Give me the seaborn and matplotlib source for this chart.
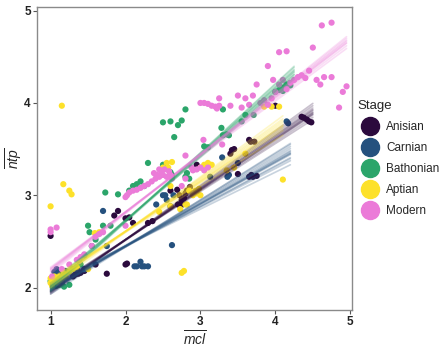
import numpy as np
import pandas as pd
import matplotlib
matplotlib.use("Agg")
import matplotlib.pyplot as plt
import seaborn as sns
from matplotlib.lines import Line2D

stages = ["Anisian", "Carnian", "Bathonian", "Aptian", "Modern"]
colors = ["#2B0A3D", "#25517E", "#2BA56A", "#FDE12A", "#EB7BD8"]

anisian_x = [1.0, 1.3, 1.33, 1.37, 1.4, 1.45, 1.6, 1.75, 1.85, 1.9, 2.0, 2.02, 2.0, 2.05, 2.1, 2.3,
             2.36, 2.6, 2.69, 2.7, 2.72, 2.75, 2.76, 2.8, 2.82, 2.78, 2.86, 2.95, 3.4, 3.42, 3.45, 3.5,
             3.65, 3.67, 3.72, 3.65, 3.68, 3.7, 3.75, 4.0, 4.35, 4.38, 4.42, 4.45, 4.48]
anisian_y = [2.56, 2.12, 2.14, 2.15, 2.16, 2.18, 2.25, 2.15, 2.78, 2.83, 2.25, 2.26, 2.75, 2.76, 2.7, 2.7,
             2.72, 3.05, 3.06, 2.9, 3.0, 2.95, 2.9, 3.02, 3.05, 2.97, 3.09, 3.33, 3.45, 3.49, 3.5, 3.23,
             3.6, 3.58, 3.58, 3.2, 3.22, 3.2, 3.21, 3.97, 3.85, 3.84, 3.82, 3.8, 3.79]

carnian_x = [1.05, 1.08, 1.1, 1.12, 1.15, 1.2, 1.1, 1.35, 1.45, 1.7, 1.75, 2.12, 2.15, 2.2, 2.22,
             2.25, 2.3, 2.41, 2.5, 2.53, 2.55, 2.62, 2.64, 2.6, 3.13, 3.29, 3.36, 3.38, 3.5, 4.15, 4.17]
carnian_y = [2.17, 2.2, 2.15, 2.18, 2.16, 2.18, 2.1, 2.2, 2.2, 2.83, 2.45, 2.23, 2.23, 2.28, 2.23,
             2.23, 2.23, 2.9, 3.0, 3.0, 2.95, 2.46, 3.0, 2.88, 3.2, 3.41, 3.2, 3.22, 3.35, 3.8, 3.78]

bathonian_x = [1.0, 1.03, 1.08, 1.12, 1.18, 1.25, 1.15, 1.4, 1.45, 1.5, 1.52, 1.55, 1.6, 1.73, 1.7,
               1.8, 1.9, 2.05, 2.1, 2.15, 2.2, 2.25, 2.3, 2.5, 2.6, 2.65, 2.7, 2.75, 2.8, 2.5, 2.6,
               2.62, 2.8, 2.85, 2.82, 3.05, 3.1, 3.3, 3.28, 3.3, 3.35, 3.38, 3.55, 3.6, 3.71,
               4.0, 4.05, 4.08, 4.1, 4.12, 4.15, 4.2]
bathonian_y = [2.07, 2.04, 2.02, 2.03, 2.01, 2.03, 2.05, 2.25, 2.35, 2.67, 2.6, 2.45, 2.52, 3.03, 2.67,
               2.67, 3.01, 3.05, 3.1, 3.12, 3.15, 3.1, 3.35, 3.79, 3.8, 3.63, 3.76, 3.81, 3.93, 3.33, 3.25,
               3.22, 3.2, 3.18, 3.24, 3.53, 3.52, 3.65, 3.73, 3.93, 3.66, 3.65, 3.8, 3.87, 3.87,
               4.12, 4.14, 4.16, 4.13, 4.17, 4.2, 4.19]

aptian_x = [1.0, 1.0, 1.0, 1.02, 1.05, 1.08, 1.1, 1.12, 1.15, 1.18, 1.2, 1.25, 1.3, 1.35, 1.05,
            1.15, 1.17, 1.25, 1.28, 1.5, 1.59, 1.65, 2.45, 2.5, 2.55, 2.57, 2.6, 2.62, 2.6, 2.73,
            2.75, 2.78, 2.8, 2.82, 2.85, 2.9, 2.93, 2.95, 2.98, 3.0, 3.0, 3.05, 3.1, 3.15, 3.35,
            3.45, 3.6, 3.85, 3.95, 4.05, 4.1]
aptian_y = [2.88, 2.1, 2.05, 2.02, 2.07, 2.1, 2.05, 2.12, 2.08, 2.15, 2.12, 2.17, 2.2, 2.22, 2.12,
            3.97, 3.12, 3.05, 3.01, 2.2, 2.59, 2.6, 2.82, 3.3, 3.35, 3.3, 3.1, 3.36, 2.88, 2.85,
            2.16, 2.18, 2.9, 2.9, 3.05, 3.0, 3.05, 3.02, 3.07, 3.0, 3.3, 3.33, 3.35, 3.33, 3.27,
            3.3, 3.45, 3.96, 3.96, 3.96, 3.17]

modern_x = [1.0, 1.0, 1.08, 1.02, 1.15, 1.25, 1.35, 1.38, 1.4, 1.45, 1.55, 1.6, 1.65, 1.7, 2.0,
            2.0, 2.02, 2.05, 2.1, 2.15, 2.2, 2.25, 2.3, 2.35, 2.4, 2.42, 2.45, 2.48, 2.5, 2.52,
            2.55, 2.58, 2.45, 2.38, 2.6, 2.62, 2.8, 2.75, 2.8, 2.88, 2.9, 2.95, 3.0, 3.05, 3.1,
            3.04, 3.29, 3.0, 3.05, 3.1, 3.15, 3.2, 3.25, 3.22, 3.25, 3.4, 3.5, 3.55, 3.6, 3.65,
            3.7, 3.75, 3.8, 3.85, 3.9, 3.95, 3.9, 3.97, 4.05, 4.15, 4.0, 4.05, 4.1, 4.15, 4.2,
            4.25, 4.3, 4.35, 4.4, 4.45, 4.5, 4.55, 4.6, 4.65, 4.62, 4.75, 4.75, 4.85, 4.9, 4.95]
modern_y = [2.63, 2.6, 2.65, 2.12, 2.2, 2.25, 2.3, 2.29, 2.33, 2.36, 2.45, 2.55, 2.58, 2.6, 2.67,
            2.98, 3.0, 3.03, 3.05, 3.06, 3.08, 3.1, 3.12, 3.15, 3.18, 3.22, 3.2, 3.25, 3.22, 3.28,
            3.2, 3.26, 3.28, 3.24, 3.22, 3.18, 3.43, 3.1, 3.18, 3.3, 3.27, 3.28, 3.3, 3.27, 3.3,
            3.6, 3.55, 4.0, 4.0, 3.99, 3.97, 3.96, 3.97, 3.94, 4.05, 3.97, 4.08, 3.95, 4.05, 3.98,
            4.08, 4.2, 4.0, 4.03, 3.98, 4.05, 4.4, 4.25, 4.55, 4.56, 4.12, 4.2, 4.25, 4.15, 4.22,
            4.25, 4.28, 4.3, 4.27, 4.35, 4.6, 4.25, 4.2, 4.28, 4.84, 4.87, 4.28, 3.95, 4.12, 4.18]

# regression draws: value at x = 1 and slope, plus x range of each fit
anisian_b0 = [2.0, 1.99, 1.98, 1.97, 1.97, 1.96, 1.96, 1.95, 1.95, 1.94, 1.93, 1.96]
anisian_b1 = [0.52, 0.53, 0.54, 0.545, 0.55, 0.555, 0.56, 0.565, 0.57, 0.58, 0.59, 0.55]
carnian_b0 = [2.05, 2.03, 2.02, 2.0, 2.0, 1.99, 1.98, 1.97, 1.96, 1.95, 1.93, 2.01, 1.98, 1.97]
carnian_b1 = [0.40, 0.42, 0.43, 0.44, 0.45, 0.46, 0.47, 0.48, 0.49, 0.50, 0.51, 0.45, 0.46, 0.47]
bathonian_b0 = [2.05, 2.04, 2.03, 2.02, 2.0, 1.99, 1.98, 1.96, 2.01, 2.0]
bathonian_b1 = [0.68, 0.69, 0.70, 0.71, 0.72, 0.73, 0.74, 0.75, 0.72, 0.71]
aptian_b0 = [2.1, 2.09, 2.08, 2.07, 2.06, 2.05, 2.04, 2.03, 2.0, 2.05]
aptian_b1 = [0.50, 0.52, 0.53, 0.54, 0.55, 0.56, 0.57, 0.58, 0.60, 0.55]
modern_b0 = [2.22, 2.21, 2.2, 2.19, 2.17, 2.15, 2.2, 2.18]
modern_b1 = [0.60, 0.61, 0.62, 0.63, 0.64, 0.65, 0.62, 0.63]
fit_xmax = [4.5, 4.2, 4.25, 4.1, 4.95]

xs = [anisian_x, carnian_x, bathonian_x, aptian_x, modern_x]
ys = [anisian_y, carnian_y, bathonian_y, aptian_y, modern_y]
b0s = [anisian_b0, carnian_b0, bathonian_b0, aptian_b0, modern_b0]
b1s = [anisian_b1, carnian_b1, bathonian_b1, aptian_b1, modern_b1]

pts = pd.concat([pd.DataFrame({"x": x, "y": y, "Stage": s}) for s, x, y in zip(stages, xs, ys)],
                ignore_index=True)

rows = []
for s, b0, b1, xm in zip(stages, b0s, b1s, fit_xmax):
    for i, (a, b) in enumerate(zip(b0, b1)):
        for xv in (1.0, xm):
            rows.append({"x": xv, "y": a + b * (xv - 1.0), "Stage": s, "draw": f"{s}{i}"})
lines = pd.DataFrame(rows)

sns.set_theme(style="white")
plt.rcParams["font.family"] = ["Liberation Sans", "DejaVu Sans"]
plt.rcParams["mathtext.fontset"] = "custom"
plt.rcParams["mathtext.it"] = "Liberation Sans:italic"
plt.rcParams["mathtext.rm"] = "Liberation Sans"

fig = plt.figure(figsize=(4.47, 3.48), dpi=100)
ax = fig.add_axes([0.083, 0.11, 0.704, 0.87])
pal = dict(zip(stages, colors))

sns.scatterplot(data=pts, x="x", y="y", hue="Stage", palette=pal, s=20, linewidth=0,
                ax=ax, legend=False, zorder=2)
sns.lineplot(data=lines, x="x", y="y", hue="Stage", units="draw", estimator=None,
             palette=pal, lw=1.2, alpha=0.25, ax=ax, legend=False, zorder=3)

ax.set_xlim(0.82, 5.02)
ax.set_ylim(1.76, 5.04)
ax.set_xticks([1, 2, 3, 4, 5])
ax.set_yticks([2, 3, 4, 5])
ax.tick_params(axis="both", labelsize=8.5, length=3, width=0.8, color="#555555",
               colors="#222222", pad=1.5, bottom=True, left=True)
for lab in ax.get_xticklabels() + ax.get_yticklabels():
    lab.set_fontweight("bold")
for sp in ax.spines.values():
    sp.set_color("#8a8a8a")
    sp.set_linewidth(1.0)
ax.set_xlabel(r"$\overline{mcl}$", fontsize=10)
ax.set_ylabel(r"$\overline{ntp}$", fontsize=10)
ax.xaxis.set_label_coords(0.5, -0.066, transform=ax.transAxes)
ax.yaxis.set_label_coords(-0.072, 0.5, transform=ax.transAxes)
ax.xaxis.label.set_va("top")
ax.yaxis.label.set_va("center")

handles = [Line2D([0], [0], marker="o", linestyle="", markersize=13, markerfacecolor=c,
                  markeredgecolor=c) for c in colors]
leg = fig.legend(handles, stages, title="Stage", loc="upper left", bbox_to_anchor=(0.79, 0.725),
                 frameon=False, fontsize=8.5, title_fontsize=9.5, labelspacing=0.75,
                 handletextpad=0.4, borderaxespad=0)
leg._legend_box.align = "left"

fig.savefig("out.png", dpi=100)
